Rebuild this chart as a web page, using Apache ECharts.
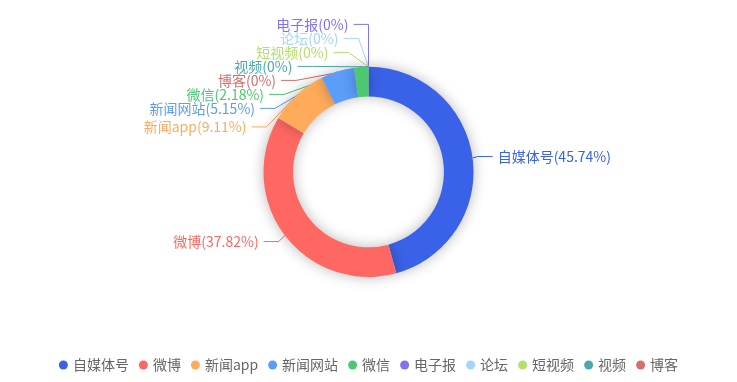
<!DOCTYPE html>
<html>
<head>
<meta charset="utf-8">
<script src="https://cdn.jsdelivr.net/npm/echarts@6/dist/echarts.min.js"></script>
<style>html,body{margin:0;padding:0;background:#fff;}#c{width:737px;height:382px;}</style>
</head>
<body>
<div id="c"></div>
<script>
var categories = ['自媒体号', '微博', '新闻app', '新闻网站', '微信', '电子报', '论坛', '短视频', '视频', '博客'];
var values = [45.74, 37.82, 9.11, 5.15, 2.18, 0, 0, 0, 0, 0];
var colors = ['#3A62E8', '#FF6762', '#FFAB5B', '#5B9DF9', '#4CC870', '#8270F5', '#A6D4FF', '#B4E06C', '#4AA8AF', '#D56F6A'];

var LINE_LEN = 10, LINE_LEN2 = 15, LABEL_DIST = 5;

var chart = echarts.init(document.getElementById('c'));
var data = categories.map(function (n, i) {
  return { name: n, value: values[i], label: { color: colors[i] }, labelLine: { lineStyle: { color: colors[i] } } };
});

// pass 1: collect the library's natural label geometry
var natural = {};
function collect(params) {
  natural[params.dataIndex] = {
    rect: params.labelRect,
    points: params.labelLinePoints ? params.labelLinePoints.map(function (p) { return [p[0], p[1]]; }) : null
  };
  return {};
}

chart.setOption({
  animation: false,
  color: colors,
  legend: {
    bottom: 5,
    left: 'center',
    icon: 'circle',
    itemWidth: 9,
    itemHeight: 9,
    itemGap: 10,
    textStyle: { fontSize: 14, color: '#666', fontFamily: 'Noto Sans CJK SC' },
    data: categories
  },
  series: [{
    type: 'pie',
    radius: ['39.5%', '55%'],
    center: ['50%', '45%'],
    startAngle: 90,
    avoidLabelOverlap: false,
    itemStyle: { shadowBlur: 14, shadowColor: 'rgba(0,0,0,0.28)' },
    label: {
      show: true,
      formatter: '{b}({d}%)',
      fontSize: 14,
      lineHeight: 14,
      distanceToLabelLine: LABEL_DIST,
      fontFamily: 'Noto Sans CJK SC'
    },
    labelLine: { show: true, length: LINE_LEN, length2: LINE_LEN2 },
    labelLayout: collect,
    data: data
  }]
});

// classic (v4-style) outside-label overlap adjustment
var seriesData = chart.getModel().getSeriesByIndex(0).getData();
var geo = seriesData.getItemLayout(0);
var cx = geo.cx, cy = geo.cy, r = geo.r;
var viewTop = 0, viewHeight = chart.getHeight();

var items = [];
Object.keys(natural).forEach(function (k) {
  var n = natural[k];
  if (!n.points) return;
  var p = n.points;
  var dir = p[2][0] < p[1][0] ? -1 : 1;
  items.push({
    idx: +k, dir: dir,
    x: p[2][0] + dir * LABEL_DIST, y: p[2][1],
    height: n.rect.height,
    linePoints: p
  });
});
items.sort(function (a, b) { return a.idx - b.idx; });

function adjustSingleSide(list, dir) {
  list.sort(function (a, b) { return a.y - b.y; });
  function shiftDown(start, end, delta) {
    for (var j = start; j < end; j++) {
      if (list[j].y + delta > viewTop + viewHeight) break;
      list[j].y += delta;
      if (j > start && j + 1 < end && list[j + 1].y > list[j].y + list[j].height) {
        shiftUp(j, delta / 2);
        return;
      }
    }
    shiftUp(end - 1, delta / 2);
  }
  function shiftUp(end, delta) {
    for (var j = end; j >= 0; j--) {
      if (list[j].y - delta < viewTop) break;
      list[j].y -= delta;
      if (j > 0 && list[j].y > list[j - 1].y + list[j - 1].height) break;
    }
  }
  function changeX(sub, isDownList) {
    var lastDeltaX = isDownList ? Number.MAX_VALUE : 0;
    for (var i = 0; i < sub.length; i++) {
      var deltaY = Math.abs(sub[i].y - cy);
      var R = r + LINE_LEN + LINE_LEN2;
      var deltaX = deltaY < r + LINE_LEN ? Math.sqrt(R * R - deltaY * deltaY) : Math.abs(sub[i].x - cx);
      if (isDownList && deltaX >= lastDeltaX) deltaX = lastDeltaX - 10;
      if (!isDownList && deltaX <= lastDeltaX) deltaX = lastDeltaX + 10;
      sub[i].x = cx + deltaX * dir;
      lastDeltaX = deltaX;
    }
  }
  var lastY = 0, len = list.length;
  for (var i = 0; i < len; i++) {
    var delta = list[i].y - lastY;
    if (delta < 0) shiftDown(i, len, -delta);
    lastY = list[i].y + list[i].height;
  }
  if (viewHeight - lastY < 0) shiftUp(len - 1, lastY - viewHeight);
  var up = [], down = [];
  list.forEach(function (it) { (it.y >= cy ? down : up).push(it); });
  changeX(up, false);
  changeX(down, true);
}

adjustSingleSide(items.filter(function (it) { return it.x >= cx; }), 1);
adjustSingleSide(items.filter(function (it) { return it.x < cx; }), -1);

var finalLayout = {};
items.forEach(function (it) {
  var lp = it.linePoints;
  var dist = lp[1][0] - lp[2][0];
  lp[2][0] = it.x < cx ? it.x + LABEL_DIST : it.x - LABEL_DIST;
  lp[1][0] = lp[2][0] + dist;
  lp[1][1] = lp[2][1] = it.y;
  finalLayout[it.idx] = { x: it.x, y: it.y, labelLinePoints: lp };
});

chart.setOption({
  series: [{
    labelLayout: function (params) {
      return finalLayout[params.dataIndex] || {};
    }
  }]
});
</script>
</body>
</html>
